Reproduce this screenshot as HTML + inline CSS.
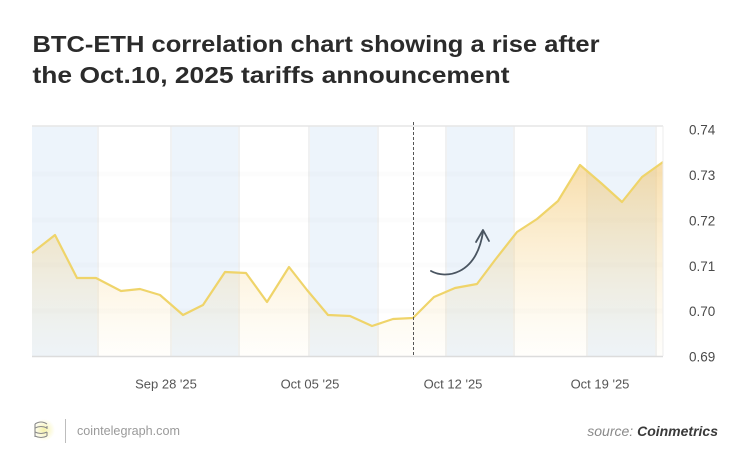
<!DOCTYPE html>
<html>
<head>
<meta charset="utf-8">
<style>
  html, body { margin: 0; padding: 0; background: #ffffff; }
  body { width: 750px; height: 473px; overflow: hidden; }
  svg { display: block; }
</style>
</head>
<body>
<svg width="750" height="473" viewBox="0 0 750 473" xmlns="http://www.w3.org/2000/svg">
  <defs>
    <linearGradient id="fillg" gradientUnits="userSpaceOnUse" x1="0" y1="150" x2="0" y2="356">
      <stop offset="0" stop-color="rgb(240,188,90)" stop-opacity="0.55"/>
      <stop offset="0.55" stop-color="rgb(245,205,120)" stop-opacity="0.26"/>
      <stop offset="1" stop-color="rgb(250,225,160)" stop-opacity="0.04"/>
    </linearGradient>
    <radialGradient id="glow" cx="0.5" cy="0.5" r="0.5">
      <stop offset="0" stop-color="#f4f0a0" stop-opacity="0.9"/>
      <stop offset="1" stop-color="#f4f0a0" stop-opacity="0"/>
    </radialGradient>
  </defs>

  <rect width="750" height="473" fill="#ffffff"/>

  <!-- Title -->
  <text x="32.5" y="52" font-family="Liberation Sans, sans-serif" font-weight="bold" font-size="23.5" fill="#2b2b2b" textLength="567" lengthAdjust="spacingAndGlyphs">BTC-ETH correlation chart showing a rise after</text>
  <text x="32.5" y="83" font-family="Liberation Sans, sans-serif" font-weight="bold" font-size="23.5" fill="#2b2b2b" textLength="477" lengthAdjust="spacingAndGlyphs">the Oct.10, 2025 tariffs announcement</text>

  <!-- Plot background bands -->
  <rect x="32" y="126" width="631" height="230" fill="#ffffff"/>
  <rect x="32" y="126" width="65" height="230" fill="#edf4fb"/>
  <rect x="172" y="126" width="66" height="230" fill="#edf4fb"/>
  <rect x="310" y="126" width="67" height="230" fill="#edf4fb"/>
  <rect x="447" y="126" width="66" height="230" fill="#edf4fb"/>
  <rect x="588" y="126" width="67" height="230" fill="#edf4fb"/>
  <!-- faint band edges -->
  <g stroke="#f0f1f2" stroke-width="2">
    <line x1="98" y1="126" x2="98" y2="356"/>
    <line x1="171" y1="126" x2="171" y2="356"/>
    <line x1="239" y1="126" x2="239" y2="356"/>
    <line x1="309" y1="126" x2="309" y2="356"/>
    <line x1="378" y1="126" x2="378" y2="356"/>
    <line x1="446" y1="126" x2="446" y2="356"/>
    <line x1="514" y1="126" x2="514" y2="356"/>
    <line x1="587" y1="126" x2="587" y2="356"/>
    <line x1="656" y1="126" x2="656" y2="356"/>
  </g>

  <!-- faint gridlines -->
  <g stroke="#000" stroke-opacity="0.012" stroke-width="5">
    <line x1="32" y1="174" x2="663" y2="174"/>
    <line x1="32" y1="220" x2="663" y2="220"/>
    <line x1="32" y1="265" x2="663" y2="265"/>
    <line x1="32" y1="311" x2="663" y2="311"/>
  </g>

  <!-- Area fill -->
  <path d="M32,253 L55,235 L77,278 L96,278 L121,291 L140,289 L160,295 L183,315 L203,305 L225,272 L246,273 L267,302 L289,267 L307,290 L328,315 L350,316 L372,326 L393,319 L413,318 L434,297 L455,288 L477,284 L495,260 L517,232 L537,219 L558,201 L580,165 L601,183 L622,202 L642,177 L663,162 L663,356 L32,356 Z" fill="url(#fillg)"/>

  <!-- Line -->
  <polyline points="32,253 55,235 77,278 96,278 121,291 140,289 160,295 183,315 203,305 225,272 246,273 267,302 289,267 307,290 328,315 350,316 372,326 393,319 413,318 434,297 455,288 477,284 495,260 517,232 537,219 558,201 580,165 601,183 622,202 642,177 663,162" fill="none" stroke="#efd46a" stroke-width="2.2" stroke-linejoin="round"/>

  <!-- Plot frame -->
  <line x1="32" y1="126" x2="663" y2="126" stroke="#e6e6e6" stroke-width="1.5"/>
  <line x1="32" y1="356.5" x2="663" y2="356.5" stroke="#dcdcdc" stroke-width="1.5"/>
  <line x1="663" y1="126" x2="663" y2="356" stroke="#ececec" stroke-width="1"/>

  <!-- Dashed event line -->
  <line x1="413.5" y1="122" x2="413.5" y2="357" stroke="#555" stroke-width="1" stroke-dasharray="3,2"/>

  <!-- Arrow -->
  <path d="M431,271 C445,279 476,276 483,232" fill="none" stroke="#4a5561" stroke-width="1.8" stroke-linecap="round"/>
  <path d="M476,242 L483,230 L489,241" fill="none" stroke="#4a5561" stroke-width="1.8" stroke-linecap="round" stroke-linejoin="round"/>

  <!-- Y axis labels -->
  <g font-family="Liberation Sans, sans-serif" font-size="13.5" fill="#4a4a4a">
    <text x="689" y="134.5">0.74</text>
    <text x="689" y="180">0.73</text>
    <text x="689" y="225.5">0.72</text>
    <text x="689" y="271">0.71</text>
    <text x="689" y="316">0.70</text>
    <text x="689" y="361.5">0.69</text>
  </g>

  <!-- X axis labels -->
  <g font-family="Liberation Sans, sans-serif" font-size="13" fill="#555" text-anchor="middle">
    <text x="166" y="388.5">Sep 28 '25</text>
    <text x="310" y="388.5">Oct 05 '25</text>
    <text x="453" y="388.5">Oct 12 '25</text>
    <text x="600" y="388.5">Oct 19 '25</text>
  </g>

  <!-- Footer logo -->
  <circle cx="44" cy="430" r="11" fill="url(#glow)"/>
  <g fill="none" stroke="#8a8a8a" stroke-width="1.1">
    <path d="M35,424 q6,-4 12,0"/>
    <path d="M35,428 q6,-3 12,0"/>
    <path d="M35,432 q6,3 12,0"/>
    <path d="M35,436 q6,3 12,0"/>
    <line x1="35" y1="424" x2="35" y2="437"/>
    <line x1="47" y1="426" x2="47" y2="429"/>
    <line x1="47" y1="432" x2="47" y2="436"/>
  </g>
  <line x1="65.5" y1="419" x2="65.5" y2="443" stroke="#bdbdbd" stroke-width="1"/>
  <text x="77" y="435" font-family="Liberation Sans, sans-serif" font-size="13" fill="#9a9a9a" textLength="103" lengthAdjust="spacingAndGlyphs">cointelegraph.com</text>

  <!-- Source -->
  <text x="718" y="436" text-anchor="end" font-family="Liberation Sans, sans-serif" font-size="14" font-style="italic"><tspan fill="#8a8a8a">source: </tspan><tspan fill="#3a3a3a" font-weight="bold">Coinmetrics</tspan></text>
</svg>
</body>
</html>
